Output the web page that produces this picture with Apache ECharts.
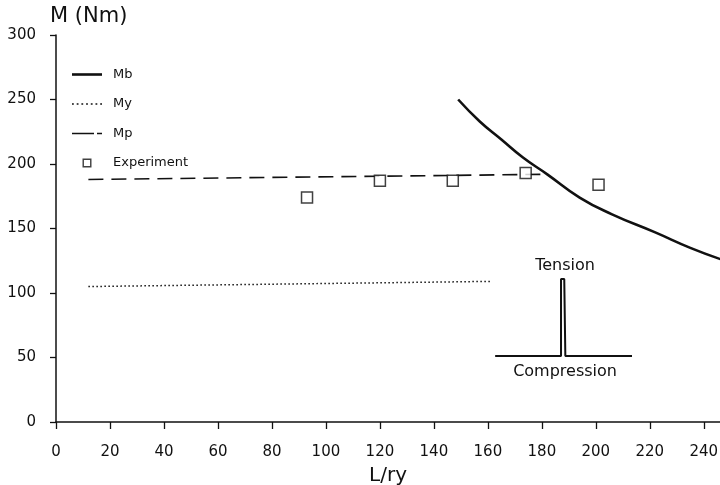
<!DOCTYPE html>
<html>
<head>
<meta charset="utf-8">
<script src="https://cdn.jsdelivr.net/npm/echarts@6/dist/echarts.min.js"></script>
<style>
  html, body { margin: 0; padding: 0; background: #fff; }
  #chart { width: 720px; height: 485px; }
</style>
</head>
<body>
<div id="chart"></div>
<script>
// Mb (buckling moment) curve
const mbL = [149, 157, 165, 173, 182, 194, 206, 222, 235, 246.5];
const mbM = [250, 233, 219, 205, 192, 174, 161, 147, 135, 126];
// My (yield moment)
const myL = [12, 161];
const myM = [105, 109];
// Mp (plastic moment)
const mpL = [12, 182];
const mpM = [188, 192];
// experiments
const expL = [93, 120, 147, 174, 201];
const expM = [174, 187, 187, 193, 184];
// stress distribution sketch (inset)
const sketchL = [162.7, 187.1, 187.1, 188.3, 188.7, 213.4];
const sketchM = [51.2, 51.2, 110.9, 110.9, 51.2, 51.2];

const xTicks = [0, 20, 40, 60, 80, 100, 120, 140, 160, 180, 200, 220, 240];

const zip = (a, b) => a.map((v, i) => [v, b[i]]);
const font = '"DejaVu Sans", Verdana, sans-serif';
const ink = '#111';

// legend icons drawn as paths so the line styles show without symbols
const dotPath = 'path://' + [0, 4.7, 9.4, 14.1, 18.8, 23.5, 28.2]
  .map(x => 'M' + x + ',0h1.8v1.6h-1.8z').join('');
const legendItems = [
  { name: 'Mb', icon: 'path://M0,0h30v2.6h-30z' },
  { name: 'My', icon: dotPath },
  { name: 'Mp', icon: 'path://M0,0h22v1.7h-22zM25,0h5v1.7h-5z' },
  { name: 'Experiment', icon: 'path://M0,0h10v10h-10zM1.6,1.6v6.8h6.8v-6.8z' }
].map(d => Object.assign(d, { itemStyle: { color: ink, borderWidth: 0 } }));

const chart = echarts.init(document.getElementById('chart'));

const option = {
  animation: false,
  backgroundColor: '#fff',
  textStyle: { fontFamily: font, color: ink },
  grid: { left: 56, right: 0, top: 35, bottom: 63, containLabel: false, outerBoundsMode: 'none' },
  legend: {
    orient: 'vertical',
    left: 67,
    top: 63,
    itemWidth: 30,
    itemHeight: 9,
    itemGap: 16.5,
    textStyle: { fontSize: 13, color: ink, fontFamily: font, padding: [0, 0, 0, 6] },
    data: legendItems
  },
  xAxis: {
    type: 'value',
    min: 0,
    max: 246,
    interval: 20,
    name: 'L/ry',
    nameLocation: 'middle',
    nameGap: 44,
    nameTextStyle: { fontSize: 20, color: ink, fontFamily: font },
    splitLine: { show: false },
    axisLine: { lineStyle: { color: ink, width: 1.5 } },
    axisTick: { length: 7, lineStyle: { color: ink, width: 1.3 } },
    axisLabel: {
      fontSize: 15, color: ink, fontFamily: font, margin: 23, showMaxLabel: false,
      formatter: v => (xTicks.includes(v) ? String(v) : '')
    }
  },
  yAxis: {
    type: 'value',
    min: 0,
    max: 300,
    interval: 50,
    splitLine: { show: false },
    axisLine: { show: true, lineStyle: { color: ink, width: 1.5 } },
    axisTick: { show: true, length: 6, lineStyle: { color: ink, width: 1.3 } },
    axisLabel: { fontSize: 15, color: ink, fontFamily: font, margin: 20 }
  },
  series: [
    {
      name: 'Mb', type: 'line', smooth: true, symbol: 'none',
      lineStyle: { color: ink, width: 2.6 },
      itemStyle: { color: ink },
      data: zip(mbL, mbM)
    },
    {
      name: 'My', type: 'line', symbol: 'none',
      lineStyle: { color: ink, width: 1.5, type: [1.5, 2.5] },
      itemStyle: { color: ink },
      data: zip(myL, myM)
    },
    {
      name: 'Mp', type: 'line', symbol: 'none',
      lineStyle: { color: ink, width: 1.6, type: [15, 8] },
      itemStyle: { color: ink },
      data: zip(mpL, mpM)
    },
    {
      name: 'Experiment', type: 'scatter', symbol: 'rect', symbolSize: 11, z: 5,
      itemStyle: { color: '#fff', borderColor: ink, borderWidth: 1.5 },
      data: zip(expL, expM)
    },
    {
      name: 'sketch', type: 'line', symbol: 'none', smooth: false,
      lineStyle: { color: ink, width: 2 },
      data: zip(sketchL, sketchM)
    }
  ]
};

chart.setOption(option);

const tPos = chart.convertToPixel('grid', [188.6, 121]);
const cPos = chart.convertToPixel('grid', [188.6, 38.5]);

chart.setOption({
  graphic: [
    {
      type: 'text', left: 50, top: 6,
      style: { text: 'M (Nm)', font: '21px ' + font, fill: ink }
    },
    {
      type: 'text', x: tPos[0], y: tPos[1],
      style: { text: 'Tension', font: '16px ' + font, fill: ink, align: 'center', verticalAlign: 'middle' }
    },
    {
      type: 'text', x: cPos[0], y: cPos[1],
      style: { text: 'Compression', font: '16px ' + font, fill: ink, align: 'center', verticalAlign: 'middle' }
    }
  ]
});
</script>
</body>
</html>
